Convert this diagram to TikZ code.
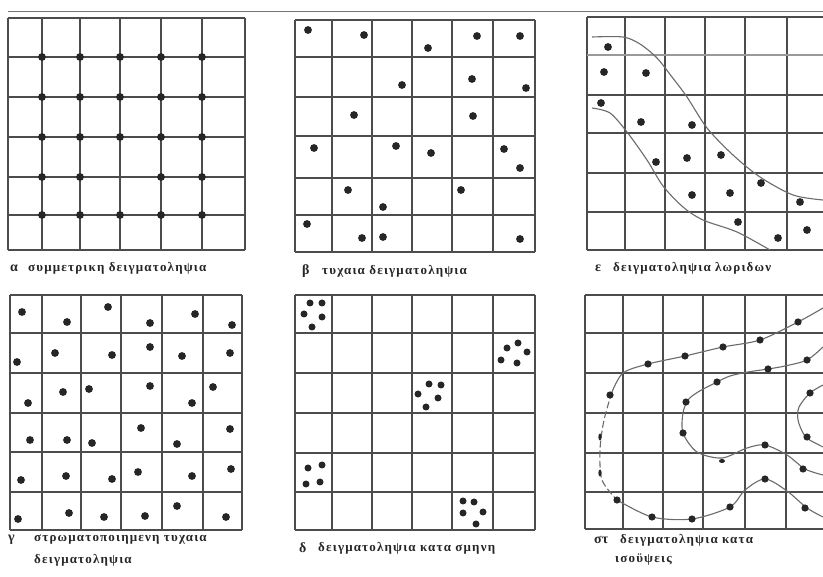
\documentclass[tikz,border=0pt]{standalone}
\usepackage{fontspec}
\setmainfont{Liberation Serif}
\begin{document}
\begin{tikzpicture}[x=1pt,y=-1pt,
  gridline/.style={draw=black!70,line width=1.4pt},
  lightline/.style={draw=black!40,line width=1.1pt},
  dotc/.style={fill=black!85},
  curve/.style={draw=black!58,line width=1.1pt},
  lbl/.style={anchor=west,inner sep=0pt,text=black!85,font=\bfseries\fontsize{13}{15}\selectfont\addfontfeatures{LetterSpace=9}},
  tag/.style={anchor=west,inner sep=0pt,text=black!85,font=\bfseries\fontsize{14}{15}\selectfont}]
\useasboundingbox[fill=white] (0,0) rectangle (823,577);
\newcommand\panelgrid[6]{%
  \foreach \gx in {#1} {\draw[gridline] (\gx,#5) -- (\gx,#6);}
  \foreach \gy in {#2} {\draw[gridline] (#3,\gy) -- (#4,\gy);}}
% top rule
\draw[draw=black!55,line width=1pt] (8,12) -- (823,12);
% ---------- alpha ----------
\panelgrid{8,42,80,120,161,202,245}{18,57,97,137,177,215,250}{8}{245}{18}{250}
\foreach \px/\py in {42/57,80/57,120/57,161/57,202/57,
  42/97,80/97,120/97,161/97,202/97,
  42/137,80/137,120/137,161/137,202/137,
  42/177,80/177,161/177,202/177,
  42/215,80/215,120/215,161/215,202/215}
  {\fill[dotc] (\px,\py) circle[radius=3.9pt];}
\node[tag] (ta) at (10,268) {α};
\node[lbl] (la) at (28,268) {συμμετρικη δειγματοληψια};
% ---------- beta ----------
\panelgrid{295,332,372,412,452,493,535}{20,57,97,136,178,215,252}{295}{535}{20}{252}
\foreach \px/\py in {308/30,364/35,428/48,477/36,520/36,402/85,472/79,526/88,
  354/115,473/116,314/148,396/146,431/153,504/149,520/168,348/190,461/190,
  383/207,307/224,362/238,383/237,520/239}
  {\fill[dotc] (\px,\py) circle[radius=3.9pt];}
\node[tag] (tb) at (302,271) {β};
\node[lbl] (lb) at (322,271) {τυχαια δειγματοληψια};
% ---------- epsilon ----------
\foreach \gx in {587,625,665,705,745,787} {\draw[gridline] (\gx,17) -- (\gx,250);}
\foreach \gy in {17,95,133,173,212,250} {\draw[gridline] (587,\gy) -- (823,\gy);}
\draw[lightline] (587,55) -- (823,55);
\draw[curve] plot[smooth] coordinates {(592,37) (623,37) (640,44) (657,58) (672,77) (687,97) (707,128) (733,155) (760,177) (793,195) (823,200)};
\draw[curve] plot[smooth] coordinates {(592,108) (610,113) (627,132) (647,160) (663,186) (683,207) (703,220) (737,232) (770,250)};
\foreach \px/\py in {608/47,604/72,646/73,601/103,641/122,692/125,656/162,687/158,
  721/155,692/195,730/193,761/183,800/202,738/222,778/238,807/230}
  {\fill[dotc] (\px,\py) circle[radius=3.9pt];}
\node[tag] (te) at (595,268) {ε};
\node[lbl] (le) at (613,268) {δειγματοληψια λωριδων};
% ---------- gamma ----------
\panelgrid{10,42,81,121,162,203,242}{295,333,373,413,452,492,530}{10}{242}{295}{530}
\foreach \px/\py in {22/312,67/322,108/307,150/323,195/314,232/325,
  17/362,55/353,112/355,150/347,182/356,230/353,
  28/403,63/392,89/389,150/386,192/403,213/387,
  30/440,67/440,92/443,141/428,177/444,230/429,
  21/480,66/476,112/479,138/472,192/476,231/469,
  18/519,69/513,104/517,145/516,177/506,226/517}
  {\fill[dotc] (\px,\py) circle[radius=3.9pt];}
\node[tag] (tg) at (8,540) {γ};
\node[lbl] (lg1) at (34,540) {στρωματοποιημενη τυχαια};
\node[lbl] (lg2) at (34,560) {δειγματοληψια};
% ---------- delta ----------
\panelgrid{295,332,372,412,452,493,535}{295,333,373,413,453,492,530}{295}{535}{295}{530}
\foreach \px/\py in {310/303,322/303,304/314,322/317,312/327,
  507/348,518/343,527/352,501/360,517/363,
  429/384,441/385,418/394,438/398,426/407,
  308/468,322/465,306/484,320/482,
  463/501,474/502,463/513,483/512,476/524}
  {\fill[dotc] (\px,\py) circle[radius=3.5pt];}
\node[tag] (td) at (299,548) {δ};
\node[lbl] (ld) at (318,548) {δειγματοληψια κατα σμηνη};
% ---------- sigma-tau ----------
\foreach \gx in {585,623,663,703,745,786} {\draw[gridline] (\gx,295) -- (\gx,529);}
\foreach \gy in {295,333,373,413,453,492,529} {\draw[gridline] (585,\gy) -- (823,\gy);}
\draw[curve] plot[smooth] coordinates {(823,308) (798,322) (760,340) (723,347) (685,356) (648,364) (623,373) (612,392)};
\draw[curve,dash pattern=on 7pt off 3pt] plot[smooth] coordinates {(612,392) (604,420) (600,450) (602,480) (617,500)};
\draw[curve] plot[smooth] coordinates {(617,500) (652,517) (692,519) (730,507) (745,490) (765,479) (787,491) (807,508) (823,517)};
\draw[curve] plot[smooth] coordinates {(823,347) (807,360) (785,366) (768,369) (748,372) (730,376) (717,382) (698,392) (688,400) (683,413) (683,433) (697,452) (722,458) (747,448) (765,445) (787,455) (805,469) (823,475)};
\draw[curve] plot[smooth] coordinates {(823,385) (810,393) (799,407) (798,420) (803,433) (808,439) (823,447)};
\foreach \px/\py in {798/322,760/340,723/347,685/356,648/364,610/395,
  617/500,652/517,692/519,730/507,765/479,805/508,
  807/360,768/369,717/382,686/402,683/433,765/445,803/469,
  810/393,807/437}
  {\fill[dotc] (\px,\py) circle[radius=3.6pt];}
\fill[dotc] (600,437) ellipse[x radius=1.6pt,y radius=3.5pt];
\fill[dotc] (600,473) ellipse[x radius=1.6pt,y radius=3.5pt];
\fill[dotc] (722,461) ellipse[x radius=3pt,y radius=2pt];
\node[tag] (ts) at (594,540) {στ};
\node[lbl] (ls1) at (620,540) {δειγματοληψια κατα};
\node[lbl] (ls2) at (615,560) {ισοϋψεις};
\end{tikzpicture}
\end{document}
